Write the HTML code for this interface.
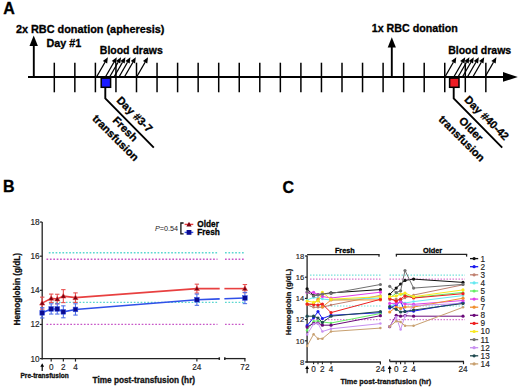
<!DOCTYPE html>
<html><head><meta charset="utf-8"><style>
html,body{margin:0;padding:0;background:#fff;}
body{width:520px;height:390px;overflow:hidden;}
svg{display:block;font-family:"Liberation Sans", sans-serif;}
</style></head><body>
<svg width="520" height="390" viewBox="0 0 520 390">
<rect width="520" height="390" fill="#fff"/>
<text x="3.2" y="14.2" font-size="16.0" font-weight="bold" font-style="normal" text-anchor="start" fill="#000" stroke="#000" stroke-width="0.3" >A</text>
<text x="15.9" y="32.7" font-size="10.7" font-weight="bold" font-style="normal" text-anchor="start" fill="#000" stroke="#000" stroke-width="0.3" textLength="148.6" lengthAdjust="spacingAndGlyphs" >2x RBC donation (apheresis)</text>
<text x="46.5" y="46.5" font-size="10.7" font-weight="bold" font-style="normal" text-anchor="start" fill="#000" stroke="#000" stroke-width="0.3" textLength="34.8" lengthAdjust="spacingAndGlyphs" >Day #1</text>
<line x1="28" y1="77" x2="505" y2="77" stroke="#000" stroke-width="2" />
<polygon points="503,72.1 517.8,77 503,81.8" fill="#000"/>
<line x1="33.8" y1="77" x2="33.8" y2="44" stroke="#000" stroke-width="1.9" />
<polygon points="29.5,45.9 33.7,35.6 37.9,45.9" fill="#000"/>
<line x1="54.3" y1="62.7" x2="54.3" y2="92.3" stroke="#000" stroke-width="1.5" />
<line x1="74.85" y1="62.7" x2="74.85" y2="92.3" stroke="#000" stroke-width="1.5" />
<line x1="95.4" y1="62.7" x2="95.4" y2="92.3" stroke="#000" stroke-width="1.5" />
<line x1="115.95" y1="62.7" x2="115.95" y2="92.3" stroke="#000" stroke-width="1.5" />
<line x1="136.5" y1="62.7" x2="136.5" y2="92.3" stroke="#000" stroke-width="1.5" />
<line x1="157.05" y1="62.7" x2="157.05" y2="92.3" stroke="#000" stroke-width="1.5" />
<line x1="177.6" y1="62.7" x2="177.6" y2="92.3" stroke="#000" stroke-width="1.5" />
<line x1="198.15" y1="62.7" x2="198.15" y2="92.3" stroke="#000" stroke-width="1.5" />
<line x1="218.7" y1="62.7" x2="218.7" y2="92.3" stroke="#000" stroke-width="1.5" />
<line x1="239.25" y1="62.7" x2="239.25" y2="92.3" stroke="#000" stroke-width="1.5" />
<line x1="259.8" y1="62.7" x2="259.8" y2="92.3" stroke="#000" stroke-width="1.5" />
<line x1="280.35" y1="62.7" x2="280.35" y2="92.3" stroke="#000" stroke-width="1.5" />
<line x1="300.9" y1="62.7" x2="300.9" y2="92.3" stroke="#000" stroke-width="1.5" />
<line x1="321.45" y1="62.7" x2="321.45" y2="92.3" stroke="#000" stroke-width="1.5" />
<line x1="342.0" y1="62.7" x2="342.0" y2="92.3" stroke="#000" stroke-width="1.5" />
<line x1="362.55" y1="62.7" x2="362.55" y2="92.3" stroke="#000" stroke-width="1.5" />
<line x1="383.1" y1="62.7" x2="383.1" y2="92.3" stroke="#000" stroke-width="1.5" />
<line x1="403.65" y1="62.7" x2="403.65" y2="92.3" stroke="#000" stroke-width="1.5" />
<line x1="424.2" y1="62.7" x2="424.2" y2="92.3" stroke="#000" stroke-width="1.5" />
<line x1="444.75" y1="62.7" x2="444.75" y2="92.3" stroke="#000" stroke-width="1.5" />
<line x1="465.3" y1="62.7" x2="465.3" y2="92.3" stroke="#000" stroke-width="1.5" />
<line x1="485.85" y1="62.7" x2="485.85" y2="92.3" stroke="#000" stroke-width="1.5" />
<line x1="391.8" y1="77" x2="391.8" y2="46" stroke="#000" stroke-width="1.9" />
<polygon points="387.7,47.5 391.8,37.2 395.9,47.5" fill="#000"/>
<text x="371.7" y="32.3" font-size="10.7" font-weight="bold" font-style="normal" text-anchor="start" fill="#000" stroke="#000" stroke-width="0.3" textLength="86.1" lengthAdjust="spacingAndGlyphs" >1x RBC donation</text>
<line x1="96.50" y1="77.00" x2="105.00" y2="62.28" stroke="#000" stroke-width="1.3"/>
<polygon points="107.90,57.25 107.17,63.53 102.84,61.03" fill="#000"/>
<line x1="105.40" y1="77.00" x2="113.90" y2="62.28" stroke="#000" stroke-width="1.3"/>
<polygon points="116.80,57.25 116.07,63.53 111.74,61.03" fill="#000"/>
<line x1="109.60" y1="77.00" x2="118.10" y2="62.28" stroke="#000" stroke-width="1.3"/>
<polygon points="121.00,57.25 120.27,63.53 115.94,61.03" fill="#000"/>
<line x1="114.00" y1="77.00" x2="122.50" y2="62.28" stroke="#000" stroke-width="1.3"/>
<polygon points="125.40,57.25 124.67,63.53 120.34,61.03" fill="#000"/>
<line x1="119.00" y1="77.00" x2="127.50" y2="62.28" stroke="#000" stroke-width="1.3"/>
<polygon points="130.40,57.25 129.67,63.53 125.34,61.03" fill="#000"/>
<line x1="124.40" y1="77.00" x2="132.90" y2="62.28" stroke="#000" stroke-width="1.3"/>
<polygon points="135.80,57.25 135.07,63.53 130.74,61.03" fill="#000"/>
<line x1="136.60" y1="77.00" x2="145.10" y2="62.28" stroke="#000" stroke-width="1.3"/>
<polygon points="148.00,57.25 147.27,63.53 142.94,61.03" fill="#000"/>
<rect x="101.2" y="78.1" width="9.4" height="9.2" fill="#1a1aff" stroke="#000" stroke-width="1.5"/>
<polyline points="105.3,87.5 105.3,98.3 153.8,147.6" fill="none" stroke="#000" stroke-width="1.9"/>
<line x1="444.90" y1="77.00" x2="453.40" y2="62.28" stroke="#000" stroke-width="1.3"/>
<polygon points="456.30,57.25 455.57,63.53 451.24,61.03" fill="#000"/>
<line x1="453.80" y1="77.00" x2="462.30" y2="62.28" stroke="#000" stroke-width="1.3"/>
<polygon points="465.20,57.25 464.47,63.53 460.14,61.03" fill="#000"/>
<line x1="458.00" y1="77.00" x2="466.50" y2="62.28" stroke="#000" stroke-width="1.3"/>
<polygon points="469.40,57.25 468.67,63.53 464.34,61.03" fill="#000"/>
<line x1="462.40" y1="77.00" x2="470.90" y2="62.28" stroke="#000" stroke-width="1.3"/>
<polygon points="473.80,57.25 473.07,63.53 468.74,61.03" fill="#000"/>
<line x1="467.40" y1="77.00" x2="475.90" y2="62.28" stroke="#000" stroke-width="1.3"/>
<polygon points="478.80,57.25 478.07,63.53 473.74,61.03" fill="#000"/>
<line x1="472.80" y1="77.00" x2="481.30" y2="62.28" stroke="#000" stroke-width="1.3"/>
<polygon points="484.20,57.25 483.47,63.53 479.14,61.03" fill="#000"/>
<line x1="485.00" y1="77.00" x2="493.50" y2="62.28" stroke="#000" stroke-width="1.3"/>
<polygon points="496.40,57.25 495.67,63.53 491.34,61.03" fill="#000"/>
<rect x="449.59999999999997" y="78.1" width="9.4" height="9.2" fill="#ee1c25" stroke="#000" stroke-width="1.5"/>
<polyline points="453.7,87.5 453.7,98.3 502.2,147.6" fill="none" stroke="#000" stroke-width="1.9"/>
<text x="99.8" y="53.6" font-size="10.7" font-weight="bold" font-style="normal" text-anchor="start" fill="#000" stroke="#000" stroke-width="0.3" textLength="63.0" lengthAdjust="spacingAndGlyphs" >Blood draws</text>
<text x="448.2" y="53.7" font-size="10.7" font-weight="bold" font-style="normal" text-anchor="start" fill="#000" stroke="#000" stroke-width="0.3" textLength="63.0" lengthAdjust="spacingAndGlyphs" >Blood draws</text>
<g transform="translate(0,0) rotate(45)" font-weight="bold" font-size="11" stroke="#000" stroke-width="0.3">
<text x="153.40" y="-10.60">Day #3-7</text>
<text x="164.80" y="6.40">Fresh</text>
<text x="149.30" y="19.50">transfusion</text>
</g>
<g transform="translate(348.4,0) rotate(45)" font-weight="bold" font-size="11" stroke="#000" stroke-width="0.3">
<text x="152.40" y="-10.60">Day #40-42</text>
<text x="163.70" y="8.30">Older</text>
<text x="148.20" y="21.50">transfusion</text>
</g>
<text x="3.0" y="192.3" font-size="16.0" font-weight="bold" font-style="normal" text-anchor="start" fill="#000" stroke="#000" stroke-width="0.3" >B</text>
<line x1="48.8" y1="252.77" x2="217.5" y2="252.77" stroke="#5ad8d0" stroke-width="1.3" stroke-dasharray="1.7 1.7"/>
<line x1="225" y1="252.77" x2="244.5" y2="252.77" stroke="#5ad8d0" stroke-width="1.3" stroke-dasharray="1.7 1.7"/>
<line x1="46.5" y1="259.25" x2="217.5" y2="259.25" stroke="#c858c8" stroke-width="1.3" stroke-dasharray="1.7 1.7"/>
<line x1="225" y1="259.25" x2="244.5" y2="259.25" stroke="#c858c8" stroke-width="1.3" stroke-dasharray="1.7 1.7"/>
<line x1="48.8" y1="302.44" x2="217.5" y2="302.44" stroke="#5ad8d0" stroke-width="1.3" stroke-dasharray="1.7 1.7"/>
<line x1="225" y1="302.44" x2="244.5" y2="302.44" stroke="#5ad8d0" stroke-width="1.3" stroke-dasharray="1.7 1.7"/>
<line x1="46.5" y1="324.46" x2="217.5" y2="324.46" stroke="#c858c8" stroke-width="1.3" stroke-dasharray="1.7 1.7"/>
<line x1="225" y1="324.46" x2="244.5" y2="324.46" stroke="#c858c8" stroke-width="1.3" stroke-dasharray="1.7 1.7"/>
<line x1="42.2" y1="222" x2="42.2" y2="359.4" stroke="#222" stroke-width="1.3" />
<line x1="39.8" y1="222.04000000000002" x2="42.2" y2="222.04000000000002" stroke="#222" stroke-width="1.2" />
<text x="39.6" y="224.94000000000003" font-size="8.2" font-weight="normal" font-style="normal" text-anchor="end" fill="#222" stroke="#222" stroke-width="0.15" >18</text>
<line x1="39.8" y1="256.18" x2="42.2" y2="256.18" stroke="#222" stroke-width="1.2" />
<text x="39.6" y="259.08" font-size="8.2" font-weight="normal" font-style="normal" text-anchor="end" fill="#222" stroke="#222" stroke-width="0.15" >16</text>
<line x1="39.8" y1="290.32000000000005" x2="42.2" y2="290.32000000000005" stroke="#222" stroke-width="1.2" />
<text x="39.6" y="293.22" font-size="8.2" font-weight="normal" font-style="normal" text-anchor="end" fill="#222" stroke="#222" stroke-width="0.15" >14</text>
<line x1="39.8" y1="324.46000000000004" x2="42.2" y2="324.46000000000004" stroke="#222" stroke-width="1.2" />
<text x="39.6" y="327.36" font-size="8.2" font-weight="normal" font-style="normal" text-anchor="end" fill="#222" stroke="#222" stroke-width="0.15" >12</text>
<line x1="39.8" y1="358.6" x2="42.2" y2="358.6" stroke="#222" stroke-width="1.2" />
<text x="39.6" y="361.5" font-size="8.2" font-weight="normal" font-style="normal" text-anchor="end" fill="#222" stroke="#222" stroke-width="0.15" >10</text>
<line x1="41.6" y1="358.6" x2="219.8" y2="358.6" stroke="#222" stroke-width="1.3" />
<line x1="224.4" y1="358.6" x2="245.5" y2="358.6" stroke="#222" stroke-width="1.3" />
<line x1="219.3" y1="357.3" x2="219.3" y2="359.9" stroke="#222" stroke-width="1.5" />
<line x1="224.8" y1="357.3" x2="224.8" y2="359.9" stroke="#222" stroke-width="1.5" />
<line x1="51.2" y1="358.6" x2="51.2" y2="361.6" stroke="#222" stroke-width="1.2" />
<line x1="63.34" y1="358.6" x2="63.34" y2="361.6" stroke="#222" stroke-width="1.2" />
<line x1="75.48" y1="358.6" x2="75.48" y2="361.6" stroke="#222" stroke-width="1.2" />
<line x1="196.88" y1="358.6" x2="196.88" y2="361.6" stroke="#222" stroke-width="1.2" />
<line x1="244.9" y1="358.6" x2="244.9" y2="361.6" stroke="#222" stroke-width="1.2" />
<text x="51.2" y="369.8" font-size="8.2" font-weight="normal" font-style="normal" text-anchor="middle" fill="#222" stroke="#222" stroke-width="0.15" >0</text>
<text x="63.34" y="369.8" font-size="8.2" font-weight="normal" font-style="normal" text-anchor="middle" fill="#222" stroke="#222" stroke-width="0.15" >2</text>
<text x="75.48" y="369.8" font-size="8.2" font-weight="normal" font-style="normal" text-anchor="middle" fill="#222" stroke="#222" stroke-width="0.15" >4</text>
<text x="196.88" y="369.8" font-size="8.2" font-weight="normal" font-style="normal" text-anchor="middle" fill="#222" stroke="#222" stroke-width="0.15" >24</text>
<text x="244.9" y="369.8" font-size="8.2" font-weight="normal" font-style="normal" text-anchor="middle" fill="#222" stroke="#222" stroke-width="0.15" >72</text>
<line x1="42.2" y1="371" x2="42.2" y2="366" stroke="#000" stroke-width="1.2" />
<polygon points="40.3,366.8 42.2,363.3 44.1,366.8" fill="#000"/>
<text x="20.5" y="377.6" font-size="6.6" font-weight="bold" font-style="normal" text-anchor="start" fill="#111" stroke="#111" stroke-width="0.3" textLength="48.2" lengthAdjust="spacingAndGlyphs" >Pre-transfusion</text>
<text x="92.5" y="383.0" font-size="8.3" font-weight="bold" font-style="normal" text-anchor="start" fill="#111" stroke="#111" stroke-width="0.3" textLength="102.6" lengthAdjust="spacingAndGlyphs" >Time post-transfusion (hr)</text>
<text x="0" y="0" font-size="8.3" font-weight="bold" fill="#111" stroke="#111" stroke-width="0.3" transform="translate(20.0,325.5) rotate(-90)" textLength="72.5" lengthAdjust="spacingAndGlyphs">Hemoglobin (g/dL)</text>
<polyline points="42.20,303.12 51.20,298.34 57.27,299.03 63.34,296.12 75.48,297.66 196.88,288.61 219.7,288.61" fill="none" stroke="#e84040" stroke-width="1.6"/>
<polyline points="224.4,288.61 244.90,288.61" fill="none" stroke="#e84040" stroke-width="1.6"/>
<line x1="42.2" y1="297.15" x2="42.2" y2="309.1" stroke="#e85050" stroke-width="1.1" />
<line x1="40.0" y1="297.15" x2="44.400000000000006" y2="297.15" stroke="#e85050" stroke-width="1.1" />
<line x1="40.0" y1="309.1" x2="44.400000000000006" y2="309.1" stroke="#e85050" stroke-width="1.1" />
<line x1="51.2" y1="294.08" x2="51.2" y2="302.61" stroke="#e85050" stroke-width="1.1" />
<line x1="49.0" y1="294.08" x2="53.400000000000006" y2="294.08" stroke="#e85050" stroke-width="1.1" />
<line x1="49.0" y1="302.61" x2="53.400000000000006" y2="302.61" stroke="#e85050" stroke-width="1.1" />
<line x1="57.27" y1="294.25" x2="57.27" y2="303.81" stroke="#e85050" stroke-width="1.1" />
<line x1="55.07" y1="294.25" x2="59.470000000000006" y2="294.25" stroke="#e85050" stroke-width="1.1" />
<line x1="55.07" y1="303.81" x2="59.470000000000006" y2="303.81" stroke="#e85050" stroke-width="1.1" />
<line x1="63.34" y1="289.64" x2="63.34" y2="302.61" stroke="#e85050" stroke-width="1.1" />
<line x1="61.14" y1="289.64" x2="65.54" y2="289.64" stroke="#e85050" stroke-width="1.1" />
<line x1="61.14" y1="302.61" x2="65.54" y2="302.61" stroke="#e85050" stroke-width="1.1" />
<line x1="75.48" y1="292.88" x2="75.48" y2="302.44" stroke="#e85050" stroke-width="1.1" />
<line x1="73.28" y1="292.88" x2="77.68" y2="292.88" stroke="#e85050" stroke-width="1.1" />
<line x1="73.28" y1="302.44" x2="77.68" y2="302.44" stroke="#e85050" stroke-width="1.1" />
<line x1="196.88" y1="284.17" x2="196.88" y2="293.05" stroke="#e85050" stroke-width="1.1" />
<line x1="194.68" y1="284.17" x2="199.07999999999998" y2="284.17" stroke="#e85050" stroke-width="1.1" />
<line x1="194.68" y1="293.05" x2="199.07999999999998" y2="293.05" stroke="#e85050" stroke-width="1.1" />
<line x1="244.9" y1="284.52" x2="244.9" y2="292.71" stroke="#e85050" stroke-width="1.1" />
<line x1="242.70000000000002" y1="284.52" x2="247.1" y2="284.52" stroke="#e85050" stroke-width="1.1" />
<line x1="242.70000000000002" y1="292.71" x2="247.1" y2="292.71" stroke="#e85050" stroke-width="1.1" />
<polygon points="39.60,305.12 42.20,300.42 44.80,305.12" fill="#7a0010" stroke="#e84040" stroke-width="0.5"/>
<polygon points="48.60,300.34 51.20,295.64 53.80,300.34" fill="#7a0010" stroke="#e84040" stroke-width="0.5"/>
<polygon points="54.67,301.03 57.27,296.33 59.87,301.03" fill="#7a0010" stroke="#e84040" stroke-width="0.5"/>
<polygon points="60.74,298.12 63.34,293.42 65.94,298.12" fill="#7a0010" stroke="#e84040" stroke-width="0.5"/>
<polygon points="72.88,299.66 75.48,294.96 78.08,299.66" fill="#7a0010" stroke="#e84040" stroke-width="0.5"/>
<polygon points="194.28,290.61 196.88,285.91 199.48,290.61" fill="#7a0010" stroke="#e84040" stroke-width="0.5"/>
<polygon points="242.30,290.61 244.90,285.91 247.50,290.61" fill="#7a0010" stroke="#e84040" stroke-width="0.5"/>
<polyline points="42.20,312.85 51.20,308.93 57.27,308.93 63.34,311.83 75.48,309.44 196.88,299.71 219.7,298.90" fill="none" stroke="#3050e8" stroke-width="1.6"/>
<polyline points="224.4,298.73 244.90,298.00" fill="none" stroke="#3050e8" stroke-width="1.6"/>
<line x1="42.2" y1="307.73" x2="42.2" y2="317.97" stroke="#5070e8" stroke-width="1.1" />
<line x1="40.0" y1="307.73" x2="44.400000000000006" y2="307.73" stroke="#5070e8" stroke-width="1.1" />
<line x1="40.0" y1="317.97" x2="44.400000000000006" y2="317.97" stroke="#5070e8" stroke-width="1.1" />
<line x1="51.2" y1="303.81" x2="51.2" y2="314.05" stroke="#5070e8" stroke-width="1.1" />
<line x1="49.0" y1="303.81" x2="53.400000000000006" y2="303.81" stroke="#5070e8" stroke-width="1.1" />
<line x1="49.0" y1="314.05" x2="53.400000000000006" y2="314.05" stroke="#5070e8" stroke-width="1.1" />
<line x1="57.27" y1="303.81" x2="57.27" y2="314.05" stroke="#5070e8" stroke-width="1.1" />
<line x1="55.07" y1="303.81" x2="59.470000000000006" y2="303.81" stroke="#5070e8" stroke-width="1.1" />
<line x1="55.07" y1="314.05" x2="59.470000000000006" y2="314.05" stroke="#5070e8" stroke-width="1.1" />
<line x1="63.34" y1="305.85" x2="63.34" y2="317.8" stroke="#5070e8" stroke-width="1.1" />
<line x1="61.14" y1="305.85" x2="65.54" y2="305.85" stroke="#5070e8" stroke-width="1.1" />
<line x1="61.14" y1="317.8" x2="65.54" y2="317.8" stroke="#5070e8" stroke-width="1.1" />
<line x1="75.48" y1="303.81" x2="75.48" y2="315.07" stroke="#5070e8" stroke-width="1.1" />
<line x1="73.28" y1="303.81" x2="77.68" y2="303.81" stroke="#5070e8" stroke-width="1.1" />
<line x1="73.28" y1="315.07" x2="77.68" y2="315.07" stroke="#5070e8" stroke-width="1.1" />
<line x1="196.88" y1="294.08" x2="196.88" y2="305.34" stroke="#5070e8" stroke-width="1.1" />
<line x1="194.68" y1="294.08" x2="199.07999999999998" y2="294.08" stroke="#5070e8" stroke-width="1.1" />
<line x1="194.68" y1="305.34" x2="199.07999999999998" y2="305.34" stroke="#5070e8" stroke-width="1.1" />
<line x1="244.9" y1="292.37" x2="244.9" y2="303.63" stroke="#5070e8" stroke-width="1.1" />
<line x1="242.70000000000002" y1="292.37" x2="247.1" y2="292.37" stroke="#5070e8" stroke-width="1.1" />
<line x1="242.70000000000002" y1="303.63" x2="247.1" y2="303.63" stroke="#5070e8" stroke-width="1.1" />
<rect x="39.85" y="310.50" width="4.7" height="4.7" fill="#0a0a90" stroke="#3050e8" stroke-width="0.5"/>
<rect x="48.85" y="306.58" width="4.7" height="4.7" fill="#0a0a90" stroke="#3050e8" stroke-width="0.5"/>
<rect x="54.92" y="306.58" width="4.7" height="4.7" fill="#0a0a90" stroke="#3050e8" stroke-width="0.5"/>
<rect x="60.99" y="309.48" width="4.7" height="4.7" fill="#0a0a90" stroke="#3050e8" stroke-width="0.5"/>
<rect x="73.13" y="307.09" width="4.7" height="4.7" fill="#0a0a90" stroke="#3050e8" stroke-width="0.5"/>
<rect x="194.53" y="297.36" width="4.7" height="4.7" fill="#0a0a90" stroke="#3050e8" stroke-width="0.5"/>
<rect x="242.55" y="295.65" width="4.7" height="4.7" fill="#0a0a90" stroke="#3050e8" stroke-width="0.5"/>
<text x="155" y="230.6" font-size="8.1" fill="#1a1a1a" textLength="23.1" lengthAdjust="spacingAndGlyphs"><tspan font-style="italic">P</tspan>=0.54</text>
<polyline points="183.6,223 180.9,223 180.9,233.8 183.6,233.8" fill="none" stroke="#111" stroke-width="1.3"/>
<line x1="184.6" y1="224.4" x2="193.3" y2="224.4" stroke="#e84040" stroke-width="1.4" />
<polygon points="186.4,226.4 189,221.8 191.6,226.4" fill="#7a0010"/>
<line x1="184.6" y1="232.4" x2="193.3" y2="232.4" stroke="#3050e8" stroke-width="1.4" />
<rect x="186.6" y="230" width="4.8" height="4.8" fill="#0a0a90"/>
<text x="197.3" y="226.7" font-size="8.7" font-weight="bold" font-style="normal" text-anchor="start" fill="#000" stroke="#000" stroke-width="0.3" textLength="21.6" lengthAdjust="spacingAndGlyphs" >Older</text>
<text x="197.3" y="234.6" font-size="8.7" font-weight="bold" font-style="normal" text-anchor="start" fill="#000" stroke="#000" stroke-width="0.3" textLength="22.6" lengthAdjust="spacingAndGlyphs" >Fresh</text>
<text x="282.6" y="192.5" font-size="16.0" font-weight="bold" font-style="normal" text-anchor="start" fill="#000" stroke="#000" stroke-width="0.3" >C</text>
<line x1="310" y1="275.08" x2="381.2" y2="275.08" stroke="#78e2da" stroke-width="1.1" stroke-dasharray="1.5 1.5"/>
<line x1="389.5" y1="275.08" x2="465" y2="275.08" stroke="#78e2da" stroke-width="1.1" stroke-dasharray="1.5 1.5"/>
<line x1="310" y1="279.11" x2="381.2" y2="279.11" stroke="#d878d0" stroke-width="1.1" stroke-dasharray="1.5 1.5"/>
<line x1="389.5" y1="279.11" x2="465" y2="279.11" stroke="#d878d0" stroke-width="1.1" stroke-dasharray="1.5 1.5"/>
<line x1="310" y1="305.93" x2="381.2" y2="305.93" stroke="#78e2da" stroke-width="1.1" stroke-dasharray="1.5 1.5"/>
<line x1="389.5" y1="305.93" x2="465" y2="305.93" stroke="#78e2da" stroke-width="1.1" stroke-dasharray="1.5 1.5"/>
<line x1="310" y1="319.6" x2="381.2" y2="319.6" stroke="#d878d0" stroke-width="1.1" stroke-dasharray="1.5 1.5"/>
<line x1="389.5" y1="319.6" x2="465" y2="319.6" stroke="#d878d0" stroke-width="1.1" stroke-dasharray="1.5 1.5"/>
<line x1="307.1" y1="255.4" x2="307.1" y2="362.6" stroke="#222" stroke-width="1.3" />
<line x1="304.9" y1="256.0" x2="307.1" y2="256.0" stroke="#222" stroke-width="1.2" />
<text x="304.3" y="258.7" font-size="7.6" font-weight="normal" font-style="normal" text-anchor="end" fill="#222" stroke="#222" stroke-width="0.15" >18</text>
<line x1="304.9" y1="277.2" x2="307.1" y2="277.2" stroke="#222" stroke-width="1.2" />
<text x="304.3" y="279.9" font-size="7.6" font-weight="normal" font-style="normal" text-anchor="end" fill="#222" stroke="#222" stroke-width="0.15" >16</text>
<line x1="304.9" y1="298.4" x2="307.1" y2="298.4" stroke="#222" stroke-width="1.2" />
<text x="304.3" y="301.09999999999997" font-size="7.6" font-weight="normal" font-style="normal" text-anchor="end" fill="#222" stroke="#222" stroke-width="0.15" >14</text>
<line x1="304.9" y1="319.6" x2="307.1" y2="319.6" stroke="#222" stroke-width="1.2" />
<text x="304.3" y="322.3" font-size="7.6" font-weight="normal" font-style="normal" text-anchor="end" fill="#222" stroke="#222" stroke-width="0.15" >12</text>
<line x1="304.9" y1="340.8" x2="307.1" y2="340.8" stroke="#222" stroke-width="1.2" />
<text x="304.3" y="343.5" font-size="7.6" font-weight="normal" font-style="normal" text-anchor="end" fill="#222" stroke="#222" stroke-width="0.15" >10</text>
<line x1="304.9" y1="362.0" x2="307.1" y2="362.0" stroke="#222" stroke-width="1.2" />
<text x="304.3" y="364.7" font-size="7.6" font-weight="normal" font-style="normal" text-anchor="end" fill="#222" stroke="#222" stroke-width="0.15" >8</text>
<line x1="306.5" y1="362.0" x2="380.9" y2="362.0" stroke="#222" stroke-width="1.3" />
<line x1="380.4" y1="362.0" x2="380.4" y2="364.5" stroke="#222" stroke-width="1.2" />
<line x1="389.7" y1="361.5" x2="464" y2="361.5" stroke="#222" stroke-width="1.3" />
<line x1="389.7" y1="359.3" x2="389.7" y2="361.5" stroke="#222" stroke-width="1.2" />
<line x1="463.5" y1="361.5" x2="463.5" y2="364.2" stroke="#222" stroke-width="1.2" />
<line x1="313.6" y1="361.8" x2="313.6" y2="364.3" stroke="#222" stroke-width="1.1" />
<line x1="318.0" y1="361.8" x2="318.0" y2="364.3" stroke="#222" stroke-width="1.1" />
<line x1="322.4" y1="361.8" x2="322.4" y2="364.3" stroke="#222" stroke-width="1.1" />
<line x1="331.0" y1="361.8" x2="331.0" y2="364.3" stroke="#222" stroke-width="1.1" />
<text x="313.6" y="372.3" font-size="8.2" font-weight="normal" font-style="normal" text-anchor="middle" fill="#222" stroke="#222" stroke-width="0.15" >0</text>
<text x="322.4" y="372.3" font-size="8.2" font-weight="normal" font-style="normal" text-anchor="middle" fill="#222" stroke="#222" stroke-width="0.15" >2</text>
<text x="331.0" y="372.3" font-size="8.2" font-weight="normal" font-style="normal" text-anchor="middle" fill="#222" stroke="#222" stroke-width="0.15" >4</text>
<text x="380.4" y="372.3" font-size="8.2" font-weight="normal" font-style="normal" text-anchor="middle" fill="#222" stroke="#222" stroke-width="0.15" >24</text>
<line x1="307.1" y1="373.3" x2="307.1" y2="368.3" stroke="#000" stroke-width="1.2" />
<polygon points="305.20000000000005,369 307.1,365.6 309.0,369" fill="#000"/>
<line x1="396.20000000000005" y1="361.8" x2="396.20000000000005" y2="364.3" stroke="#222" stroke-width="1.1" />
<line x1="400.6" y1="361.8" x2="400.6" y2="364.3" stroke="#222" stroke-width="1.1" />
<line x1="405.0" y1="361.8" x2="405.0" y2="364.3" stroke="#222" stroke-width="1.1" />
<line x1="413.6" y1="361.8" x2="413.6" y2="364.3" stroke="#222" stroke-width="1.1" />
<text x="396.20000000000005" y="372.3" font-size="8.2" font-weight="normal" font-style="normal" text-anchor="middle" fill="#222" stroke="#222" stroke-width="0.15" >0</text>
<text x="405.0" y="372.3" font-size="8.2" font-weight="normal" font-style="normal" text-anchor="middle" fill="#222" stroke="#222" stroke-width="0.15" >2</text>
<text x="413.6" y="372.3" font-size="8.2" font-weight="normal" font-style="normal" text-anchor="middle" fill="#222" stroke="#222" stroke-width="0.15" >4</text>
<text x="463.0" y="372.3" font-size="8.2" font-weight="normal" font-style="normal" text-anchor="middle" fill="#222" stroke="#222" stroke-width="0.15" >24</text>
<line x1="389.70000000000005" y1="373.3" x2="389.70000000000005" y2="368.3" stroke="#000" stroke-width="1.2" />
<polygon points="387.80000000000007,369 389.70000000000005,365.6 391.6,369" fill="#000"/>
<line x1="307.1" y1="254.6" x2="379.6" y2="254.6" stroke="#222" stroke-width="1.4" />
<line x1="379.0" y1="254.6" x2="379.0" y2="256.8" stroke="#222" stroke-width="1.3" />
<line x1="395.8" y1="254.4" x2="467.2" y2="254.4" stroke="#222" stroke-width="1.4" />
<line x1="396.4" y1="254.4" x2="396.4" y2="256.6" stroke="#222" stroke-width="1.3" />
<line x1="466.6" y1="254.4" x2="466.6" y2="256.6" stroke="#222" stroke-width="1.3" />
<text x="334.9" y="252.7" font-size="7.3" font-weight="bold" font-style="normal" text-anchor="start" fill="#000" stroke="#000" stroke-width="0.3" >Fresh</text>
<text x="423" y="252.7" font-size="7.3" font-weight="bold" font-style="normal" text-anchor="start" fill="#000" stroke="#000" stroke-width="0.3" >Older</text>
<text x="340.4" y="384.0" font-size="7.6" font-weight="bold" font-style="normal" text-anchor="start" fill="#111" stroke="#111" stroke-width="0.3" textLength="90.8" lengthAdjust="spacingAndGlyphs" >Time post-transfusion (hr)</text>
<text x="0" y="0" font-size="7.1" font-weight="bold" fill="#111" stroke="#111" stroke-width="0.2" transform="translate(290.8,335.2) rotate(-90)" textLength="66.5" lengthAdjust="spacingAndGlyphs">Hemoglobin (g/dL)</text>
<line x1="470" y1="258.6" x2="478.2" y2="258.6" stroke="#111111" stroke-width="1.3" />
<circle cx="474.1" cy="258.60" r="1.6" fill="#111111"/>
<text x="480.6" y="261.5" font-size="8.2" font-weight="normal" font-style="normal" text-anchor="start" fill="#222" stroke="#222" stroke-width="0.15" >1</text>
<line x1="470" y1="266.7" x2="478.2" y2="266.7" stroke="#1a1aee" stroke-width="1.3" />
<circle cx="474.1" cy="266.70" r="1.6" fill="#1a1aee"/>
<text x="480.6" y="269.6" font-size="8.2" font-weight="normal" font-style="normal" text-anchor="start" fill="#222" stroke="#222" stroke-width="0.15" >2</text>
<line x1="470" y1="274.8" x2="478.2" y2="274.8" stroke="#c08070" stroke-width="1.3" />
<circle cx="474.1" cy="274.80" r="1.6" fill="#c08070"/>
<text x="480.6" y="277.7" font-size="8.2" font-weight="normal" font-style="normal" text-anchor="start" fill="#222" stroke="#222" stroke-width="0.15" >3</text>
<line x1="470" y1="282.9" x2="478.2" y2="282.9" stroke="#66e8f0" stroke-width="1.3" />
<circle cx="474.1" cy="282.90" r="1.6" fill="#66e8f0"/>
<text x="480.6" y="285.8" font-size="8.2" font-weight="normal" font-style="normal" text-anchor="start" fill="#222" stroke="#222" stroke-width="0.15" >4</text>
<line x1="470" y1="291.0" x2="478.2" y2="291.0" stroke="#66ee66" stroke-width="1.3" />
<circle cx="474.1" cy="291.00" r="1.6" fill="#66ee66"/>
<text x="480.6" y="293.9" font-size="8.2" font-weight="normal" font-style="normal" text-anchor="start" fill="#222" stroke="#222" stroke-width="0.15" >5</text>
<line x1="470" y1="299.1" x2="478.2" y2="299.1" stroke="#e040e8" stroke-width="1.3" />
<circle cx="474.1" cy="299.10" r="1.6" fill="#e040e8"/>
<text x="480.6" y="302.0" font-size="8.2" font-weight="normal" font-style="normal" text-anchor="start" fill="#222" stroke="#222" stroke-width="0.15" >6</text>
<line x1="470" y1="307.2" x2="478.2" y2="307.2" stroke="#f09030" stroke-width="1.3" />
<circle cx="474.1" cy="307.20" r="1.6" fill="#f09030"/>
<text x="480.6" y="310.1" font-size="8.2" font-weight="normal" font-style="normal" text-anchor="start" fill="#222" stroke="#222" stroke-width="0.15" >7</text>
<line x1="470" y1="315.3" x2="478.2" y2="315.3" stroke="#6a0a7a" stroke-width="1.3" />
<circle cx="474.1" cy="315.30" r="1.6" fill="#6a0a7a"/>
<text x="480.6" y="318.2" font-size="8.2" font-weight="normal" font-style="normal" text-anchor="start" fill="#222" stroke="#222" stroke-width="0.15" >8</text>
<line x1="470" y1="323.4" x2="478.2" y2="323.4" stroke="#ee2020" stroke-width="1.3" />
<circle cx="474.1" cy="323.40" r="1.6" fill="#ee2020"/>
<text x="480.6" y="326.3" font-size="8.2" font-weight="normal" font-style="normal" text-anchor="start" fill="#222" stroke="#222" stroke-width="0.15" >9</text>
<line x1="470" y1="331.5" x2="478.2" y2="331.5" stroke="#f8e820" stroke-width="1.3" />
<circle cx="474.1" cy="331.50" r="1.6" fill="#f8e820"/>
<text x="480.6" y="334.4" font-size="8.2" font-weight="normal" font-style="normal" text-anchor="start" fill="#222" stroke="#222" stroke-width="0.15" >10</text>
<line x1="470" y1="339.6" x2="478.2" y2="339.6" stroke="#707070" stroke-width="1.3" />
<circle cx="474.1" cy="339.60" r="1.6" fill="#707070"/>
<text x="480.6" y="342.5" font-size="8.2" font-weight="normal" font-style="normal" text-anchor="start" fill="#222" stroke="#222" stroke-width="0.15" >11</text>
<line x1="470" y1="347.7" x2="478.2" y2="347.7" stroke="#c890f0" stroke-width="1.3" />
<circle cx="474.1" cy="347.70" r="1.6" fill="#c890f0"/>
<text x="480.6" y="350.6" font-size="8.2" font-weight="normal" font-style="normal" text-anchor="start" fill="#222" stroke="#222" stroke-width="0.15" >12</text>
<line x1="470" y1="355.8" x2="478.2" y2="355.8" stroke="#204a50" stroke-width="1.3" />
<circle cx="474.1" cy="355.80" r="1.6" fill="#204a50"/>
<text x="480.6" y="358.7" font-size="8.2" font-weight="normal" font-style="normal" text-anchor="start" fill="#222" stroke="#222" stroke-width="0.15" >13</text>
<line x1="470" y1="363.9" x2="478.2" y2="363.9" stroke="#c8a070" stroke-width="1.3" />
<circle cx="474.1" cy="363.90" r="1.6" fill="#c8a070"/>
<text x="480.6" y="366.8" font-size="8.2" font-weight="normal" font-style="normal" text-anchor="start" fill="#222" stroke="#222" stroke-width="0.15" >14</text>
<polyline points="307.10,288.80 313.60,295.60 318.00,294.50 322.40,294.00 331.00,292.90 380.40,289.60" fill="none" stroke="#111111" stroke-width="1.0"/>
<circle cx="307.10" cy="288.80" r="1.6" fill="#111111"/>
<circle cx="313.60" cy="295.60" r="1.6" fill="#111111"/>
<circle cx="318.00" cy="294.50" r="1.6" fill="#111111"/>
<circle cx="322.40" cy="294.00" r="1.6" fill="#111111"/>
<circle cx="331.00" cy="292.90" r="1.6" fill="#111111"/>
<circle cx="380.40" cy="289.60" r="1.6" fill="#111111"/>
<polyline points="307.10,325.70 313.60,317.60 318.00,311.70 322.40,318.50 331.00,315.30 380.40,312.70" fill="none" stroke="#1a1aee" stroke-width="1.0"/>
<circle cx="307.10" cy="325.70" r="1.6" fill="#1a1aee"/>
<circle cx="313.60" cy="317.60" r="1.6" fill="#1a1aee"/>
<circle cx="318.00" cy="311.70" r="1.6" fill="#1a1aee"/>
<circle cx="322.40" cy="318.50" r="1.6" fill="#1a1aee"/>
<circle cx="331.00" cy="315.30" r="1.6" fill="#1a1aee"/>
<circle cx="380.40" cy="312.70" r="1.6" fill="#1a1aee"/>
<polyline points="307.10,305.00 313.60,307.30 318.00,307.30 322.40,307.30 331.00,305.00 380.40,295.40" fill="none" stroke="#c08070" stroke-width="1.0"/>
<circle cx="307.10" cy="305.00" r="1.25" fill="#c08070"/>
<circle cx="313.60" cy="307.30" r="1.25" fill="#c08070"/>
<circle cx="318.00" cy="307.30" r="1.25" fill="#c08070"/>
<circle cx="322.40" cy="307.30" r="1.25" fill="#c08070"/>
<circle cx="331.00" cy="305.00" r="1.25" fill="#c08070"/>
<circle cx="380.40" cy="295.40" r="1.25" fill="#c08070"/>
<polyline points="307.10,300.00 313.60,297.40 318.00,298.00 322.40,299.00 331.00,300.00 380.40,298.00" fill="none" stroke="#66e8f0" stroke-width="1.0"/>
<circle cx="307.10" cy="300.00" r="1.25" fill="#66e8f0"/>
<circle cx="313.60" cy="297.40" r="1.25" fill="#66e8f0"/>
<circle cx="318.00" cy="298.00" r="1.25" fill="#66e8f0"/>
<circle cx="322.40" cy="299.00" r="1.25" fill="#66e8f0"/>
<circle cx="331.00" cy="300.00" r="1.25" fill="#66e8f0"/>
<circle cx="380.40" cy="298.00" r="1.25" fill="#66e8f0"/>
<polyline points="307.10,330.20 313.60,321.20 318.00,321.00 322.40,322.00 331.00,323.00 380.40,313.50" fill="none" stroke="#66ee66" stroke-width="1.0"/>
<circle cx="307.10" cy="330.20" r="1.25" fill="#66ee66"/>
<circle cx="313.60" cy="321.20" r="1.25" fill="#66ee66"/>
<circle cx="318.00" cy="321.00" r="1.25" fill="#66ee66"/>
<circle cx="322.40" cy="322.00" r="1.25" fill="#66ee66"/>
<circle cx="331.00" cy="323.00" r="1.25" fill="#66ee66"/>
<circle cx="380.40" cy="313.50" r="1.25" fill="#66ee66"/>
<polyline points="307.10,292.40 313.60,292.40 318.00,294.70 322.40,296.50 331.00,298.00 380.40,292.20" fill="none" stroke="#e040e8" stroke-width="1.0"/>
<circle cx="307.10" cy="292.40" r="1.6" fill="#e040e8"/>
<circle cx="313.60" cy="292.40" r="1.6" fill="#e040e8"/>
<circle cx="318.00" cy="294.70" r="1.6" fill="#e040e8"/>
<circle cx="322.40" cy="296.50" r="1.6" fill="#e040e8"/>
<circle cx="331.00" cy="298.00" r="1.6" fill="#e040e8"/>
<circle cx="380.40" cy="292.20" r="1.6" fill="#e040e8"/>
<polyline points="307.10,304.00 313.60,304.00 318.00,299.20 322.40,307.00 331.00,300.00 380.40,299.90" fill="none" stroke="#f09030" stroke-width="1.0"/>
<circle cx="307.10" cy="304.00" r="1.6" fill="#f09030"/>
<circle cx="313.60" cy="304.00" r="1.6" fill="#f09030"/>
<circle cx="318.00" cy="299.20" r="1.6" fill="#f09030"/>
<circle cx="322.40" cy="307.00" r="1.6" fill="#f09030"/>
<circle cx="331.00" cy="300.00" r="1.6" fill="#f09030"/>
<circle cx="380.40" cy="299.90" r="1.6" fill="#f09030"/>
<polyline points="307.10,327.00 313.60,323.40 318.00,323.00 322.40,325.20 331.00,325.20 380.40,315.70" fill="none" stroke="#6a0a7a" stroke-width="1.0"/>
<circle cx="307.10" cy="327.00" r="1.6" fill="#6a0a7a"/>
<circle cx="313.60" cy="323.40" r="1.6" fill="#6a0a7a"/>
<circle cx="318.00" cy="323.00" r="1.6" fill="#6a0a7a"/>
<circle cx="322.40" cy="325.20" r="1.6" fill="#6a0a7a"/>
<circle cx="331.00" cy="325.20" r="1.6" fill="#6a0a7a"/>
<circle cx="380.40" cy="315.70" r="1.6" fill="#6a0a7a"/>
<polyline points="307.10,304.10 313.60,304.60 318.00,305.00 322.40,304.10 331.00,312.60 380.40,299.30" fill="none" stroke="#ee2020" stroke-width="1.0"/>
<circle cx="307.10" cy="304.10" r="1.6" fill="#ee2020"/>
<circle cx="313.60" cy="304.60" r="1.6" fill="#ee2020"/>
<circle cx="318.00" cy="305.00" r="1.6" fill="#ee2020"/>
<circle cx="322.40" cy="304.10" r="1.6" fill="#ee2020"/>
<circle cx="331.00" cy="312.60" r="1.6" fill="#ee2020"/>
<circle cx="380.40" cy="299.30" r="1.6" fill="#ee2020"/>
<polyline points="307.10,301.00 313.60,302.30 318.00,301.00 322.40,292.40 331.00,299.20 380.40,296.70" fill="none" stroke="#f8e820" stroke-width="1.0"/>
<circle cx="307.10" cy="301.00" r="1.6" fill="#f8e820"/>
<circle cx="313.60" cy="302.30" r="1.6" fill="#f8e820"/>
<circle cx="318.00" cy="301.00" r="1.6" fill="#f8e820"/>
<circle cx="322.40" cy="292.40" r="1.6" fill="#f8e820"/>
<circle cx="331.00" cy="299.20" r="1.6" fill="#f8e820"/>
<circle cx="380.40" cy="296.70" r="1.6" fill="#f8e820"/>
<polyline points="307.10,292.00 313.60,296.00 318.00,295.00 322.40,294.00 331.00,293.50 380.40,284.50" fill="none" stroke="#707070" stroke-width="1.0"/>
<circle cx="307.10" cy="292.00" r="1.6" fill="#707070"/>
<circle cx="313.60" cy="296.00" r="1.6" fill="#707070"/>
<circle cx="318.00" cy="295.00" r="1.6" fill="#707070"/>
<circle cx="322.40" cy="294.00" r="1.6" fill="#707070"/>
<circle cx="331.00" cy="293.50" r="1.6" fill="#707070"/>
<circle cx="380.40" cy="284.50" r="1.6" fill="#707070"/>
<polyline points="307.10,334.60 313.60,323.90 318.00,323.50 322.40,331.50 331.00,328.80 380.40,323.60" fill="none" stroke="#c890f0" stroke-width="1.0"/>
<circle cx="307.10" cy="334.60" r="1.25" fill="#c890f0"/>
<circle cx="313.60" cy="323.90" r="1.25" fill="#c890f0"/>
<circle cx="318.00" cy="323.50" r="1.25" fill="#c890f0"/>
<circle cx="322.40" cy="331.50" r="1.25" fill="#c890f0"/>
<circle cx="331.00" cy="328.80" r="1.25" fill="#c890f0"/>
<circle cx="380.40" cy="323.60" r="1.25" fill="#c890f0"/>
<polyline points="307.10,316.20 313.60,316.20 318.00,318.00 322.40,322.50 331.00,316.20 380.40,311.50" fill="none" stroke="#204a50" stroke-width="1.0"/>
<circle cx="307.10" cy="316.20" r="1.6" fill="#204a50"/>
<circle cx="313.60" cy="316.20" r="1.6" fill="#204a50"/>
<circle cx="318.00" cy="318.00" r="1.6" fill="#204a50"/>
<circle cx="322.40" cy="322.50" r="1.6" fill="#204a50"/>
<circle cx="331.00" cy="316.20" r="1.6" fill="#204a50"/>
<circle cx="380.40" cy="311.50" r="1.6" fill="#204a50"/>
<polyline points="307.10,346.00 313.60,334.20 318.00,338.70 322.40,338.70 331.00,331.50 380.40,328.10" fill="none" stroke="#c8a070" stroke-width="1.0"/>
<circle cx="307.10" cy="346.00" r="1.25" fill="#c8a070"/>
<circle cx="313.60" cy="334.20" r="1.25" fill="#c8a070"/>
<circle cx="318.00" cy="338.70" r="1.25" fill="#c8a070"/>
<circle cx="322.40" cy="338.70" r="1.25" fill="#c8a070"/>
<circle cx="331.00" cy="331.50" r="1.25" fill="#c8a070"/>
<circle cx="380.40" cy="328.10" r="1.25" fill="#c8a070"/>
<polyline points="389.70,294.30 396.20,288.10 400.60,284.00 405.00,280.40 413.60,279.10 463.00,282.40" fill="none" stroke="#111111" stroke-width="1.0"/>
<circle cx="389.70" cy="294.30" r="1.6" fill="#111111"/>
<circle cx="396.20" cy="288.10" r="1.6" fill="#111111"/>
<circle cx="400.60" cy="284.00" r="1.6" fill="#111111"/>
<circle cx="405.00" cy="280.40" r="1.6" fill="#111111"/>
<circle cx="413.60" cy="279.10" r="1.6" fill="#111111"/>
<circle cx="463.00" cy="282.40" r="1.6" fill="#111111"/>
<polyline points="389.70,308.00 396.20,305.00 400.60,301.20 405.00,311.50 413.60,311.10 463.00,302.60" fill="none" stroke="#1a1aee" stroke-width="1.0"/>
<circle cx="389.70" cy="308.00" r="1.6" fill="#1a1aee"/>
<circle cx="396.20" cy="305.00" r="1.6" fill="#1a1aee"/>
<circle cx="400.60" cy="301.20" r="1.6" fill="#1a1aee"/>
<circle cx="405.00" cy="311.50" r="1.6" fill="#1a1aee"/>
<circle cx="413.60" cy="311.10" r="1.6" fill="#1a1aee"/>
<circle cx="463.00" cy="302.60" r="1.6" fill="#1a1aee"/>
<polyline points="389.70,300.00 396.20,299.00 400.60,300.00 405.00,298.00 413.60,295.00 463.00,284.80" fill="none" stroke="#c08070" stroke-width="1.0"/>
<circle cx="389.70" cy="300.00" r="1.25" fill="#c08070"/>
<circle cx="396.20" cy="299.00" r="1.25" fill="#c08070"/>
<circle cx="400.60" cy="300.00" r="1.25" fill="#c08070"/>
<circle cx="405.00" cy="298.00" r="1.25" fill="#c08070"/>
<circle cx="413.60" cy="295.00" r="1.25" fill="#c08070"/>
<circle cx="463.00" cy="284.80" r="1.25" fill="#c08070"/>
<polyline points="389.70,306.60 396.20,303.00 400.60,302.00 405.00,303.00 413.60,301.60 463.00,295.60" fill="none" stroke="#66e8f0" stroke-width="1.0"/>
<circle cx="389.70" cy="306.60" r="1.25" fill="#66e8f0"/>
<circle cx="396.20" cy="303.00" r="1.25" fill="#66e8f0"/>
<circle cx="400.60" cy="302.00" r="1.25" fill="#66e8f0"/>
<circle cx="405.00" cy="303.00" r="1.25" fill="#66e8f0"/>
<circle cx="413.60" cy="301.60" r="1.25" fill="#66e8f0"/>
<circle cx="463.00" cy="295.60" r="1.25" fill="#66e8f0"/>
<polyline points="389.70,298.00 396.20,293.10 400.60,294.50 405.00,295.00 413.60,297.50 463.00,292.40" fill="none" stroke="#66ee66" stroke-width="1.0"/>
<circle cx="389.70" cy="298.00" r="1.25" fill="#66ee66"/>
<circle cx="396.20" cy="293.10" r="1.25" fill="#66ee66"/>
<circle cx="400.60" cy="294.50" r="1.25" fill="#66ee66"/>
<circle cx="405.00" cy="295.00" r="1.25" fill="#66ee66"/>
<circle cx="413.60" cy="297.50" r="1.25" fill="#66ee66"/>
<circle cx="463.00" cy="292.40" r="1.25" fill="#66ee66"/>
<polyline points="389.70,303.40 396.20,303.40 400.60,302.00 405.00,304.00 413.60,304.30 463.00,300.50" fill="none" stroke="#e040e8" stroke-width="1.0"/>
<circle cx="389.70" cy="303.40" r="1.6" fill="#e040e8"/>
<circle cx="396.20" cy="303.40" r="1.6" fill="#e040e8"/>
<circle cx="400.60" cy="302.00" r="1.6" fill="#e040e8"/>
<circle cx="405.00" cy="304.00" r="1.6" fill="#e040e8"/>
<circle cx="413.60" cy="304.30" r="1.6" fill="#e040e8"/>
<circle cx="463.00" cy="300.50" r="1.6" fill="#e040e8"/>
<polyline points="389.70,312.00 396.20,307.00 400.60,308.40 405.00,307.00 413.60,307.00 463.00,298.20" fill="none" stroke="#f09030" stroke-width="1.0"/>
<circle cx="389.70" cy="312.00" r="1.6" fill="#f09030"/>
<circle cx="396.20" cy="307.00" r="1.6" fill="#f09030"/>
<circle cx="400.60" cy="308.40" r="1.6" fill="#f09030"/>
<circle cx="405.00" cy="307.00" r="1.6" fill="#f09030"/>
<circle cx="413.60" cy="307.00" r="1.6" fill="#f09030"/>
<circle cx="463.00" cy="298.20" r="1.6" fill="#f09030"/>
<polyline points="389.70,326.70 396.20,315.30 400.60,316.20 405.00,315.70 413.60,316.20 463.00,316.20" fill="none" stroke="#6a0a7a" stroke-width="1.0"/>
<circle cx="389.70" cy="326.70" r="1.6" fill="#6a0a7a"/>
<circle cx="396.20" cy="315.30" r="1.6" fill="#6a0a7a"/>
<circle cx="400.60" cy="316.20" r="1.6" fill="#6a0a7a"/>
<circle cx="405.00" cy="315.70" r="1.6" fill="#6a0a7a"/>
<circle cx="413.60" cy="316.20" r="1.6" fill="#6a0a7a"/>
<circle cx="463.00" cy="316.20" r="1.6" fill="#6a0a7a"/>
<polyline points="389.70,298.50 396.20,301.20 400.60,299.00 405.00,295.80 413.60,298.00 463.00,293.70" fill="none" stroke="#ee2020" stroke-width="1.0"/>
<circle cx="389.70" cy="298.50" r="1.6" fill="#ee2020"/>
<circle cx="396.20" cy="301.20" r="1.6" fill="#ee2020"/>
<circle cx="400.60" cy="299.00" r="1.6" fill="#ee2020"/>
<circle cx="405.00" cy="295.80" r="1.6" fill="#ee2020"/>
<circle cx="413.60" cy="298.00" r="1.6" fill="#ee2020"/>
<circle cx="463.00" cy="293.70" r="1.6" fill="#ee2020"/>
<polyline points="389.70,296.70 396.20,296.00 400.60,294.00 405.00,293.00 413.60,296.70 463.00,289.90" fill="none" stroke="#f8e820" stroke-width="1.0"/>
<circle cx="389.70" cy="296.70" r="1.6" fill="#f8e820"/>
<circle cx="396.20" cy="296.00" r="1.6" fill="#f8e820"/>
<circle cx="400.60" cy="294.00" r="1.6" fill="#f8e820"/>
<circle cx="405.00" cy="293.00" r="1.6" fill="#f8e820"/>
<circle cx="413.60" cy="296.70" r="1.6" fill="#f8e820"/>
<circle cx="463.00" cy="289.90" r="1.6" fill="#f8e820"/>
<polyline points="389.70,286.30 396.20,292.50 400.60,290.80 405.00,270.50 413.60,288.10 463.00,284.40" fill="none" stroke="#707070" stroke-width="1.0"/>
<circle cx="389.70" cy="286.30" r="1.6" fill="#707070"/>
<circle cx="396.20" cy="292.50" r="1.6" fill="#707070"/>
<circle cx="400.60" cy="290.80" r="1.6" fill="#707070"/>
<circle cx="405.00" cy="270.50" r="1.6" fill="#707070"/>
<circle cx="413.60" cy="288.10" r="1.6" fill="#707070"/>
<circle cx="463.00" cy="284.40" r="1.6" fill="#707070"/>
<polyline points="389.70,326.50 396.20,317.00 400.60,329.60 405.00,316.00 413.60,305.50 463.00,303.50" fill="none" stroke="#c890f0" stroke-width="1.0"/>
<circle cx="389.70" cy="326.50" r="1.25" fill="#c890f0"/>
<circle cx="396.20" cy="317.00" r="1.25" fill="#c890f0"/>
<circle cx="400.60" cy="329.60" r="1.25" fill="#c890f0"/>
<circle cx="405.00" cy="316.00" r="1.25" fill="#c890f0"/>
<circle cx="413.60" cy="305.50" r="1.25" fill="#c890f0"/>
<circle cx="463.00" cy="303.50" r="1.25" fill="#c890f0"/>
<polyline points="389.70,306.60 396.20,309.30 400.60,312.00 405.00,311.50 413.60,310.00 463.00,303.50" fill="none" stroke="#204a50" stroke-width="1.0"/>
<circle cx="389.70" cy="306.60" r="1.6" fill="#204a50"/>
<circle cx="396.20" cy="309.30" r="1.6" fill="#204a50"/>
<circle cx="400.60" cy="312.00" r="1.6" fill="#204a50"/>
<circle cx="405.00" cy="311.50" r="1.6" fill="#204a50"/>
<circle cx="413.60" cy="310.00" r="1.6" fill="#204a50"/>
<circle cx="463.00" cy="303.50" r="1.6" fill="#204a50"/>
<polyline points="389.70,326.50 396.20,321.20 400.60,322.00 405.00,325.80 413.60,325.80 463.00,307.30" fill="none" stroke="#c8a070" stroke-width="1.0"/>
<circle cx="389.70" cy="326.50" r="1.25" fill="#c8a070"/>
<circle cx="396.20" cy="321.20" r="1.25" fill="#c8a070"/>
<circle cx="400.60" cy="322.00" r="1.25" fill="#c8a070"/>
<circle cx="405.00" cy="325.80" r="1.25" fill="#c8a070"/>
<circle cx="413.60" cy="325.80" r="1.25" fill="#c8a070"/>
<circle cx="463.00" cy="307.30" r="1.25" fill="#c8a070"/>
</svg>
</body></html>
